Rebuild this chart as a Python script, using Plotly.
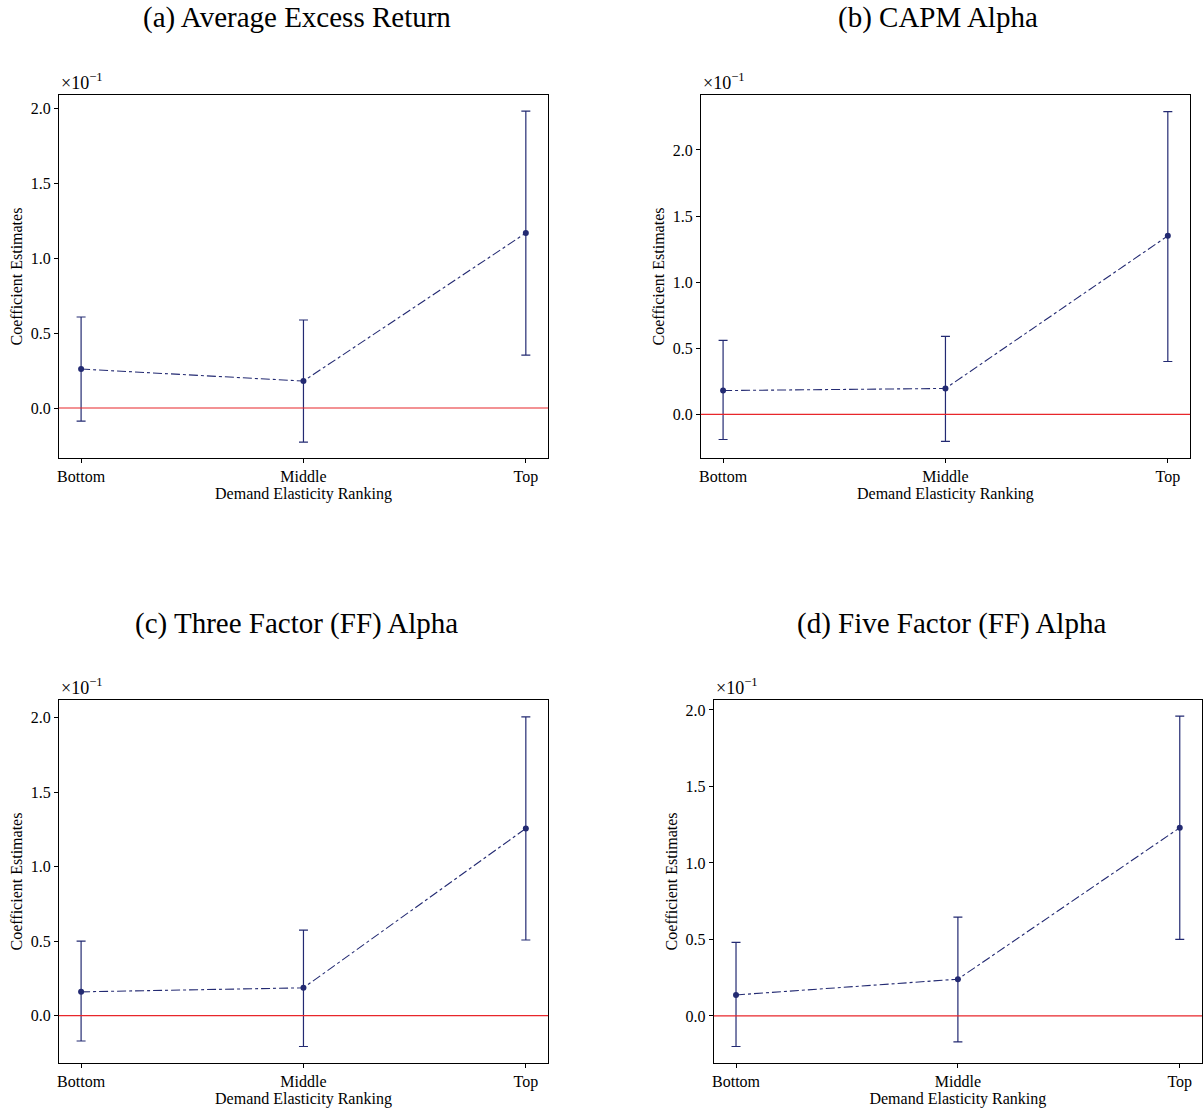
import plotly.graph_objects as go

categories = ["Bottom", "Middle", "Top"]
titles = ["(a) Average Excess Return", "(b) CAPM Alpha",
          "(c) Three Factor (FF) Alpha", "(d) Five Factor (FF) Alpha"]

# coefficient estimates, in units of 1e-1
est_a = [0.26, 0.18, 1.167]
up_a = [0.607, 0.587, 1.98]
lo_a = [-0.087, -0.227, 0.353]

est_b = [0.18, 0.196, 1.35]
up_b = [0.56, 0.59, 2.29]
lo_b = [-0.19, -0.204, 0.40]

est_c = [0.16, 0.187, 1.257]
up_c = [0.50, 0.575, 2.007]
lo_c = [-0.17, -0.207, 0.508]

est_d = [0.137, 0.24, 1.23]
up_d = [0.48, 0.645, 1.96]
lo_d = [-0.20, -0.17, 0.50]

yticks = [0.0, 0.5, 1.0, 1.5, 2.0]

panels = [
    (est_a, up_a, lo_a, [0.0473, 0.4543], [0.5885, 0.9146], [-0.333, 2.087], 295, 18, 15),
    (est_b, up_b, lo_b, [0.5814, 0.9884], [0.5885, 0.9146], [-0.33, 2.415], 938, 18, 658),
    (est_c, up_c, lo_c, [0.0473, 0.4543], [0.0449, 0.3711], [-0.318, 2.12], 295, 623, 15),
    (est_d, up_d, lo_d, [0.5922, 0.9983], [0.0449, 0.3711], [-0.308, 2.065], 951, 623, 671),
]

W, H = 1204, 1113
FONT = "Liberation Serif"
COL = "#232a72"

fig = go.Figure()
layout = dict(
    width=W, height=H, margin=dict(l=0, r=0, t=0, b=0),
    paper_bgcolor="white", plot_bgcolor="white", showlegend=False,
    font=dict(family=FONT, size=16, color="black"),
)
annotations = []
shapes = []
for i, (est, up, lo, xd, yd, yr, tx, ty, lx) in enumerate(panels):
    n = "" if i == 0 else str(i + 1)
    xa, ya = "x" + n, "y" + n
    fig.add_trace(go.Scatter(
        x=[0, 1, 2], y=est, xaxis=xa, yaxis=ya, mode="lines+markers",
        line=dict(color=COL, width=1.1, dash="dashdot"),
        marker=dict(color=COL, size=6),
        error_y=dict(type="data", symmetric=False,
                     array=[u - e for u, e in zip(up, est)],
                     arrayminus=[e - l for e, l in zip(est, lo)],
                     color=COL, thickness=1.2, width=4.5),
    ))
    axis_common = dict(showline=True, linecolor="black", linewidth=1, mirror=True,
                       ticks="outside", ticklen=4, tickcolor="black", showgrid=False,
                       zeroline=False, tickfont=dict(family=FONT, size=16))
    layout["xaxis" + n] = dict(axis_common, domain=xd, anchor=ya, range=[-0.1, 2.1],
                               tickvals=[0, 1, 2], ticktext=categories,
                               title=dict(text="Demand Elasticity Ranking",
                                          font=dict(family=FONT, size=16), standoff=2))
    layout["yaxis" + n] = dict(axis_common, domain=yd, anchor=xa, range=yr,
                               tickvals=yticks, ticktext=["%.1f" % v for v in yticks])
    shapes.append(dict(type="line", xref=xa + " domain", yref=ya, x0=0, x1=1, y0=0, y1=0,
                       line=dict(color="#e8262b", width=1.1)))
    annotations.append(dict(text=titles[i], x=tx / W, y=1 - ty / H, xref="paper", yref="paper",
                            showarrow=False, xanchor="center", yanchor="middle",
                            font=dict(family=FONT, size=29)))
    annotations.append(dict(text="Coefficient Estimates", x=lx / W, y=(yd[0] + yd[1]) / 2,
                            xref="paper", yref="paper", showarrow=False, textangle=-90,
                            xanchor="center", yanchor="middle",
                            font=dict(family=FONT, size=16)))
    annotations.append(dict(text="×10<sup>−1</sup>", x=xd[0], y=yd[1], xref="paper", yref="paper",
                            showarrow=False, xanchor="left", yanchor="bottom", yshift=0,
                            font=dict(family=FONT, size=18)))

layout["annotations"] = annotations
layout["shapes"] = shapes
fig.update_layout(**layout)
fig.write_html("out.html")
